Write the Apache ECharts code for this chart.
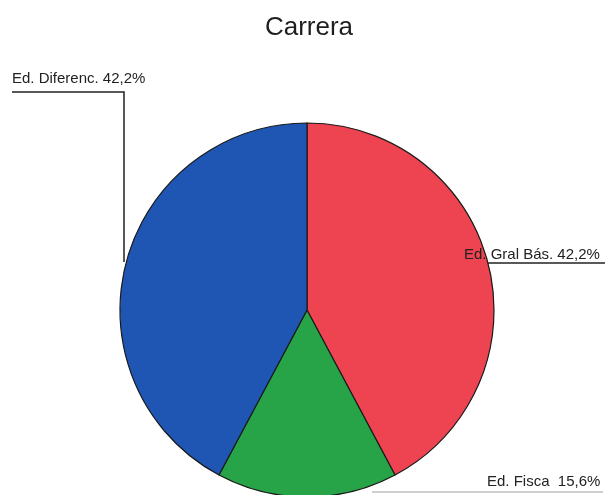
<!DOCTYPE html>
<html>
<head>
<meta charset="utf-8">
<script src="https://cdn.jsdelivr.net/npm/echarts@6/dist/echarts.min.js"></script>
<style>
  html, body { margin: 0; padding: 0; background: #fff; }
  #chart { width: 607px; height: 495px; }
</style>
</head>
<body>
<div id="chart"></div>
<script>
// Career distribution, clockwise from 12 o'clock
const categories = ['Ed. Gral Bás.', 'Ed. Fisca', 'Ed. Diferenc.'];
const percentages = [42.2, 15.6, 42.2];
const sliceColors = ['#ee4451', '#28a448', '#1f55b3'];

// Label placement and leader lines for each slice (pixel coordinates)
const labelSpots = [
  { x: 464, y: 255, line: [[488, 263], [488, 263], [605, 263]] },
  { x: 487, y: 482, line: [[372, 492], [372, 492], [603, 492]] },
  { x: 12,  y: 79,  line: [[124, 262], [124, 92], [12, 92]] }
];

const chart = echarts.init(document.getElementById('chart'), null, { renderer: 'canvas' });

const fmt = v => v.toFixed(1).replace('.', ',') + '%';

chart.setOption({
  animation: false,
  backgroundColor: '#ffffff',
  title: {
    text: 'Carrera',
    left: 304,
    top: 10,
    textAlign: 'center',
    textStyle: { fontFamily: 'Liberation Sans, Arial, sans-serif', fontSize: 26, fontWeight: 'normal', color: '#1e1e1e' }
  },
  series: [{
    type: 'pie',
    center: [307, 310],
    radius: 187,
    startAngle: 90,
    clockwise: true,
    avoidLabelOverlap: false,
    data: categories.map((name, i) => ({
      name,
      value: percentages[i],
      itemStyle: { color: sliceColors[i] },
      labelLine: { lineStyle: { color: i === 1 ? '#a0a0a0' : '#222', width: i === 1 ? 1.2 : 1.5 } }
    })),
    itemStyle: { borderColor: '#1a1a1a', borderWidth: 1.2 },
    label: {
      show: true,
      position: 'outside',
      formatter: p => p.name + (p.dataIndex === 1 ? '  ' : ' ') + fmt(p.value),
      fontFamily: 'Liberation Sans, Arial, sans-serif',
      fontSize: 15,
      color: '#222'
    },
    labelLine: { show: true, smooth: false },
    labelLayout: params => {
      const s = labelSpots[params.dataIndex];
      return {
        x: s.x,
        y: s.y,
        align: 'left',
        verticalAlign: 'middle',
        labelLinePoints: s.line
      };
    },
    emphasis: { disabled: true }
  }]
});
</script>
</body>
</html>
